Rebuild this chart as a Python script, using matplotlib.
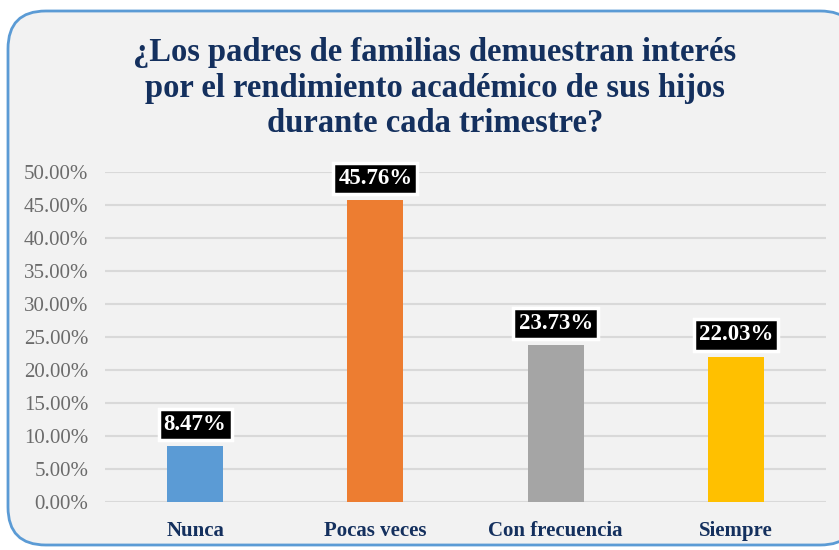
import matplotlib.pyplot as plt
from matplotlib.patches import FancyBboxPatch
from matplotlib.ticker import PercentFormatter

# Datos
categorias = ['Nunca', 'Pocas veces', 'Con frecuencia', 'Siempre']
valores = [8.47, 45.76, 23.73, 22.03]
colores = ['#5B9BD5', '#ED7D31', '#A5A5A5', '#FFC000']
titulo = '¿Los padres de familias demuestran interés\npor el rendimiento académico de sus hijos\ndurante cada trimestre?'

plt.rcParams['font.family'] = ['Liberation Serif', 'DejaVu Serif']

fig = plt.figure(figsize=(8.39, 5.5), dpi=100)
fig.patch.set_facecolor('white')

# Marco redondeado
W, H = 839, 550
caja = FancyBboxPatch((8 / W, 5 / H), 850 / W, 534 / H,
                      boxstyle='round,pad=0,rounding_size=0.045',
                      transform=fig.transFigure, facecolor='#F2F2F2',
                      edgecolor='#5B9BD5', linewidth=2, mutation_aspect=W / H,
                      zorder=-10)
fig.patches.append(caja)

ax = fig.add_axes([105 / W, 1 - 502 / H, 721 / W, 330 / H], zorder=2)
ax.set_facecolor('none')

x = range(len(categorias))
ax.bar(x, valores, width=0.31, color=colores, zorder=3)

ax.set_ylim(0, 50)
ax.set_xlim(-0.5, 3.5)
ax.set_yticks(range(0, 51, 5))
ax.yaxis.set_major_formatter(PercentFormatter(decimals=2))
ax.grid(axis='y', color='#D9D9D9', linewidth=1.5, zorder=0)
for s in ax.spines.values():
    s.set_visible(False)
ax.tick_params(axis='y', length=0, pad=12, labelsize=15, labelcolor='#6B6B6B')
ax.tick_params(axis='x', length=0, pad=14)
ax.set_xticks(list(x))
ax.set_xticklabels(categorias, fontsize=15, fontweight='bold', color='#14305E')

for i, v in zip(x, valores):
    ax.annotate(f'{v:.2f}%', (i, v), xytext=(0, 8), textcoords='offset points',
                ha='center', va='bottom', fontsize=16.5, fontweight='bold',
                color='white', zorder=5,
                bbox=dict(boxstyle='square,pad=0.22', facecolor='black',
                          edgecolor='white', linewidth=2.5))

fig.text(435 / W, 1 - 88 / H, titulo, ha='center', va='center', fontsize=23.5,
         fontweight='bold', color='#14305E', linespacing=1.2, zorder=3)

fig.savefig('out.png', dpi=100)
